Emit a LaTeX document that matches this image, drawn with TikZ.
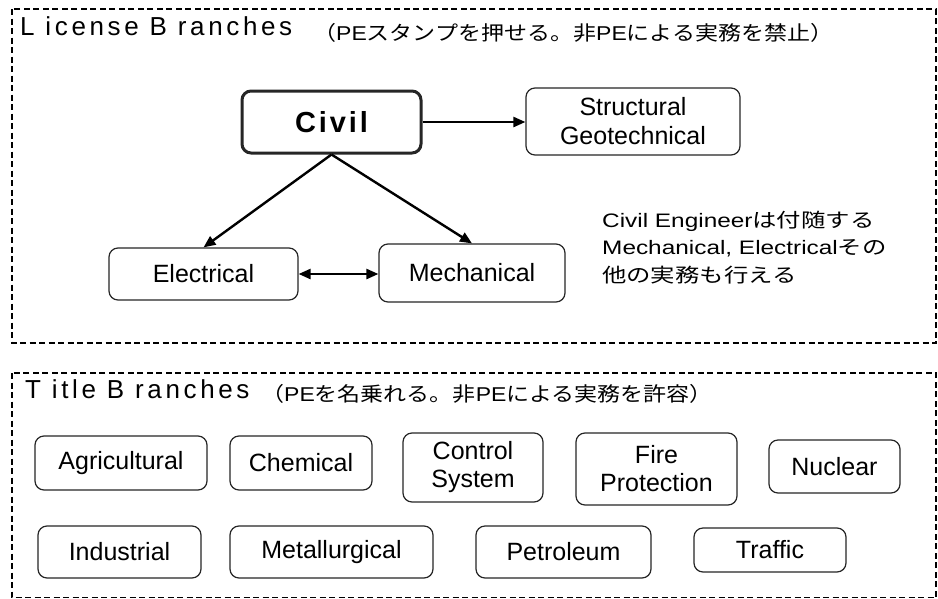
\documentclass[tikz,border=0pt]{standalone}
\usepackage{fontspec}
\setmainfont{Liberation Sans}
\newfontfamily\notelat[FakeStretch=1.25]{Liberation Sans}
\newfontfamily\notejp[FakeStretch=1.25]{Noto Sans CJK JP}
\newfontfamily\sublat[FakeStretch=1.15]{Liberation Sans}
\newfontfamily\subjp[FakeStretch=1.15]{Noto Sans CJK JP}
\newfontfamily\headfont[LetterSpace=14]{Liberation Sans}
\newfontfamily\civfont[LetterSpace=10]{Liberation Sans}
\usetikzlibrary{arrows.meta}
\begin{document}
\begin{tikzpicture}[x=1pt,y=-1pt,
  frame/.style={draw=black, line width=1.8pt, dash pattern=on 6pt off 3.5pt},
  branch/.style={draw=black!85, line width=1.2pt, rounded corners=9pt, align=center,
    font=\fontsize{25}{28}\selectfont, inner sep=0pt},
  conn/.style={line width=2.4pt, -{Triangle[length=12pt,width=10pt]}},
  biconn/.style={line width=2.4pt, {Triangle[length=12pt,width=10pt]}-{Triangle[length=12pt,width=10pt]}},
  head/.style={anchor=base west, inner sep=0pt, font=\headfont\fontsize{26}{28}\selectfont},
  sub/.style={anchor=base west, inner sep=0pt, font=\fontsize{20}{22}\selectfont},
  notetext/.style={anchor=base west, inner sep=0pt, font=\fontsize{19.5}{27.5}\selectfont}]
\useasboundingbox (0,0) rectangle (938,598);
\fill[white] (0,0) rectangle (938,598);

% License branches frame
\draw[frame] (12,9) rectangle (936,343);
\node[head] (lichead) at (20,35) {L icense B ranches};
\node[sub] (licsub) at (313,40) {\subjp （\sublat PE\subjp スタンプを押せる。非\sublat PE\subjp による実務を禁止）};

\node[branch, line width=3pt, minimum width=179pt, minimum height=62pt,
  font=\civfont\bfseries\fontsize{29}{32}\selectfont] (civil) at (331.5,122) {Civil};
\node[branch, minimum width=214pt, minimum height=67pt, font=\fontsize{25}{29}\selectfont] (struct) at (633,121.5) {Structural\\Geotechnical};
\node[branch, minimum width=189pt, minimum height=52pt] (elec) at (203.5,274) {Electrical};
\node[branch, minimum width=186pt, minimum height=58pt] (mech) at (472,273) {Mechanical};

\draw[conn] (civil.east) -- (struct.west |- civil.east);
\draw[conn] (civil.south) -- (elec.north);
\draw[conn] (civil.south) -- (mech.north);
\draw[biconn] (elec.east) -- (mech.west |- elec.east);

\node[notetext] (note1) at (602,227) {\notelat Civil Engineer\notejp は付随する};
\node[notetext] (note2) at (602,254.5) {\notelat Mechanical, Electrical\notejp その};
\node[notetext] (note3) at (602,282) {\notejp 他の実務も行える};

% Title branches frame
\draw[frame] (12,373) rectangle (936,597.5);
\node[head] (titlehead) at (25,398) {T itle B ranches};
\node[sub] (titlesub) at (261,401) {\subjp （\sublat PE\subjp を名乗れる。非\sublat PE\subjp による実務を許容）};

\node[branch, minimum width=172pt, minimum height=54pt] (agri) at (121,463) {Agricultural};
\node[branch, minimum width=142pt, minimum height=54pt] (chem) at (301,463) {Chemical};
\node[branch, minimum width=140pt, minimum height=69pt] (ctrl) at (473,467.5) {Control\\System};
\node[branch, minimum width=161pt, minimum height=72pt] (fire) at (656.5,469) {Fire\\Protection};
\node[branch, minimum width=131pt, minimum height=53pt] (nucl) at (834.5,466.5) {Nuclear};

\node[branch, minimum width=163pt, minimum height=52pt] (indu) at (119.5,552) {Industrial};
\node[branch, minimum width=203pt, minimum height=52pt] (metal) at (331.5,552) {Metallurgical};
\node[branch, minimum width=175pt, minimum height=52pt] (petro) at (563.5,552) {Petroleum};
\node[branch, minimum width=152pt, minimum height=44pt] (traf) at (770,550) {Traffic};
\end{tikzpicture}
\end{document}
